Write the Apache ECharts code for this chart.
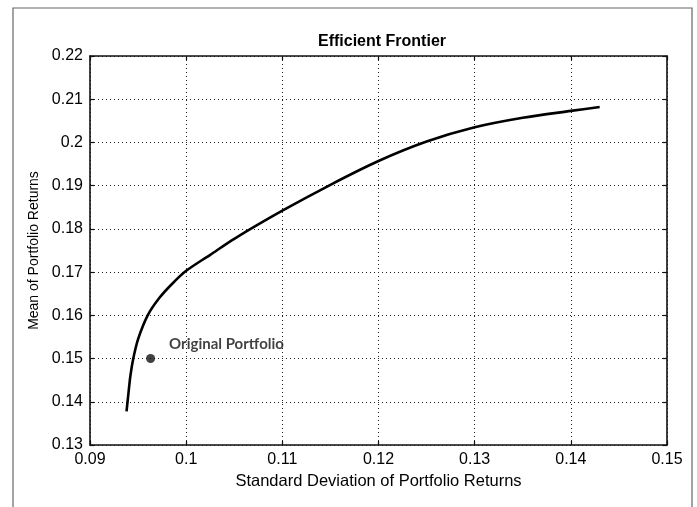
<!DOCTYPE html>
<html>
<head>
<meta charset="utf-8">
<script src="https://cdn.jsdelivr.net/npm/echarts@6/dist/echarts.min.js"></script>
<style>
html,body{margin:0;padding:0;background:#fff;}
#chart{width:697px;height:507px;}
</style>
</head>
<body>
<div id="chart"></div>
<script>
// Data
const titleText = 'Efficient Frontier';
const xAxisName = 'Standard Deviation of Portfolio Returns';
const yAxisName = 'Mean of Portfolio Returns';
const frontierStd  = [0.0938, 0.0940, 0.0942, 0.0945, 0.0950, 0.0960, 0.0972, 0.0985, 0.1000, 0.1025, 0.1050, 0.1100, 0.1150, 0.1200, 0.1250, 0.1300, 0.1350, 0.1400, 0.1430];
const frontierMean = [0.1378, 0.1420, 0.1460, 0.1500, 0.1545, 0.1600, 0.1640, 0.1672, 0.1703, 0.1740, 0.1777, 0.1842, 0.1902, 0.1957, 0.2002, 0.2035, 0.2057, 0.2073, 0.2082];
const originalStd = [0.0963];
const originalMean = [0.1500];
const originalLabel = 'Original Portfolio';
const xMin = 0.09, xMax = 0.15, xStep = 0.01;
const yMin = 0.13, yMax = 0.22, yStep = 0.01;

const frontierData = frontierStd.map((x, i) => [x, frontierMean[i]]);
const originalData = originalStd.map((x, i) => [x, originalMean[i]]);

const fmt = v => (Math.round(v * 100) / 100).toString();

const chart = echarts.init(document.getElementById('chart'), null, {renderer: 'canvas'});
const gridLine = {show: true, lineStyle: {type: [1, 3], color: '#222', width: 1}};
const axisLine = {show: true, lineStyle: {color: '#111', width: 1.6}};
const tick = {show: true, inside: true, length: 4, lineStyle: {color: '#111', width: 1.2}};
const labelStyle = {color: '#000', fontFamily: 'Liberation Sans, Arial, sans-serif', fontSize: 16};

chart.setOption({
  animation: false,
  backgroundColor: '#fff',
  graphic: [{
    type: 'rect',
    shape: {x: 13, y: 8, width: 679, height: 520},
    style: {fill: 'none', stroke: '#666', lineWidth: 1.2},
    silent: true, z: -10
  }],
  title: {
    text: titleText,
    left: 377, top: 29, textAlign: 'center',
    textStyle: {fontFamily: 'Liberation Sans, Arial, sans-serif', fontWeight: 'bold', fontSize: 16, color: '#000'}
  },
  grid: {left: 90, right: 30, top: 56, bottom: 62, containLabel: false},
  xAxis: [{
    type: 'value', min: xMin, max: xMax, interval: xStep,
    name: xAxisName, nameLocation: 'middle', nameGap: 25,
    nameTextStyle: {color: '#000', fontFamily: 'Liberation Sans, Arial, sans-serif', fontSize: 16.5},
    axisLine: axisLine, axisTick: tick, splitLine: gridLine,
    axisLabel: Object.assign({margin: 7, formatter: fmt}, labelStyle)
  }, {
    type: 'value', min: xMin, max: xMax, interval: xStep, position: 'top',
    axisLine: axisLine, axisTick: tick, splitLine: {show: false}, axisLabel: {show: false}
  }],
  yAxis: [{
    type: 'value', min: yMin, max: yMax, interval: yStep,
    name: yAxisName, nameLocation: 'middle', nameGap: 49,
    nameTextStyle: {color: '#000', fontFamily: 'Liberation Sans, Arial, sans-serif', fontSize: 14},
    axisLine: axisLine, axisTick: tick, splitLine: gridLine,
    axisLabel: Object.assign({margin: 7, formatter: fmt}, labelStyle)
  }, {
    type: 'value', min: yMin, max: yMax, interval: yStep, position: 'right',
    axisLine: axisLine, axisTick: tick, splitLine: {show: false}, axisLabel: {show: false}
  }],
  series: [{
    type: 'line', data: frontierData, smooth: 0.3, showSymbol: false,
    lineStyle: {color: '#000', width: 2.6}, z: 3
  }, {
    type: 'scatter', data: originalData, symbol: 'circle', symbolSize: 9,
    itemStyle: {color: '#111'},
    label: {
      show: true, position: 'right', offset: [9, -14], formatter: originalLabel,
      fontFamily: 'Lato, Open Sans, sans-serif', fontWeight: 'bold', fontSize: 15, color: '#111'
    }, z: 4
  }]
});
</script>
</body>
</html>
